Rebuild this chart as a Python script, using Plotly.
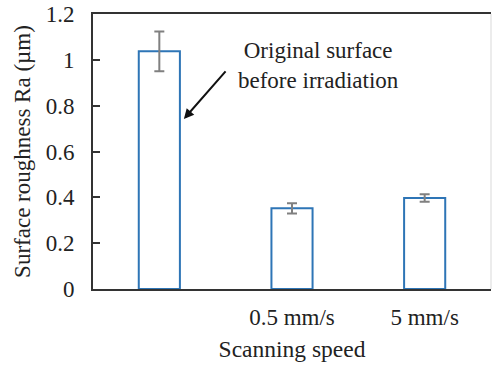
import plotly.graph_objects as go

categories = ["", "0.5 mm/s", "5 mm/s"]
roughness = [1.037, 0.352, 0.397]
errors = [0.087, 0.022, 0.016]
y_ticks = [0, 0.2, 0.4, 0.6, 0.8, 1.0, 1.2]
y_tick_labels = ["0", "0.2", "0.4", "0.6", "0.8", "1", "1.2"]

FONT = "Liberation Serif, Times New Roman, serif"
FS = 23
xpos = list(range(len(categories)))

fig = go.Figure()
fig.add_trace(go.Bar(
    x=xpos, y=roughness, width=0.31,
    marker=dict(color="white", line=dict(color="#2e75b6", width=2)),
    error_y=dict(type="data", array=errors, visible=True,
                 color="#808080", thickness=2, width=5),
    showlegend=False,
))

fig.add_annotation(x=1.2, y=0.975, xref="x", yref="y",
                   text="Original surface<br>before irradiation",
                   showarrow=False, font=dict(family=FONT, size=FS, color="#222"),
                   align="center")
fig.add_annotation(x=0.185, y=0.742, xref="x", yref="y", text="",
                   showarrow=True, ax=43, ay=-49, arrowhead=2, arrowsize=1,
                   arrowwidth=2, arrowcolor="#111")

fig.add_shape(type="line", xref="paper", yref="paper", x0=1, x1=1, y0=0, y1=1,
              line=dict(color="#d9d9d9", width=1))

fig.update_layout(
    width=492, height=365,
    margin=dict(l=93, r=1, t=14, b=76),
    paper_bgcolor="white", plot_bgcolor="white",
    font=dict(family=FONT, size=FS, color="#222"),
    xaxis=dict(range=[-0.5, 2.5], tickvals=xpos, ticktext=categories,
               showline=True, linecolor="#333", linewidth=2, mirror=True,
               ticks="", showgrid=False, zeroline=False, automargin=False,
               ticklabelstandoff=6,
               title=dict(text="Scanning speed", standoff=12,
                          font=dict(family=FONT, size=23.5, color="#222")),
               tickfont=dict(size=FS)),
    yaxis=dict(range=[0, 1.2], tickvals=y_ticks, ticktext=y_tick_labels,
               showline=True, linecolor="#333", linewidth=2,
               ticks="inside", ticklen=7, tickwidth=1.5, tickcolor="#333",
               showgrid=False, zeroline=False, ticklabelstandoff=12,
               automargin=False,
               title=dict(text="Surface roughness Ra (µm)", standoff=9,
                          font=dict(family=FONT, size=FS, color="#222")),
               tickfont=dict(size=FS)),
)

fig.write_html("out.html", config={"displayModeBar": False},
               post_script="document.body.style.margin='0';document.body.style.overflow='hidden';")
